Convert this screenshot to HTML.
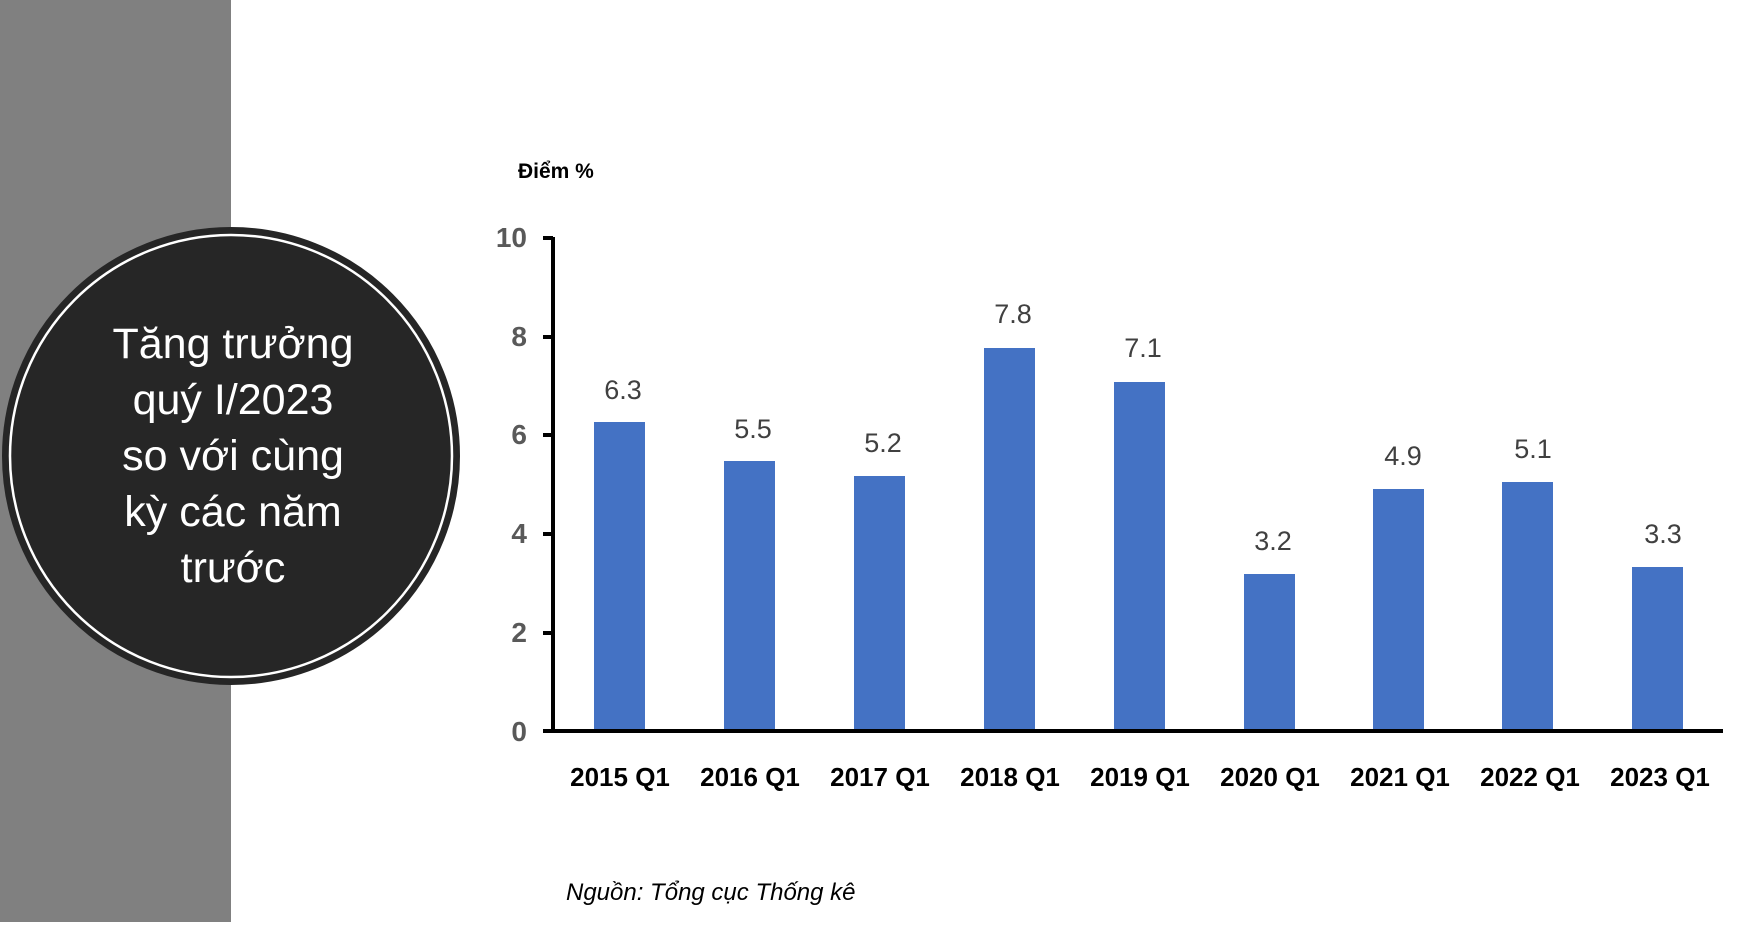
<!DOCTYPE html>
<html><head><meta charset="utf-8"><style>
html,body{margin:0;padding:0;background:#fff;}
</style></head><body>
<svg width="1745" height="922" viewBox="0 0 1745 922" xmlns="http://www.w3.org/2000/svg" font-family="'Liberation Sans', sans-serif">
<rect x="0" y="0" width="231" height="922" fill="#808080"/>
<circle cx="231" cy="456" r="227" fill="#262626" stroke="#262626" stroke-width="4"/>
<circle cx="231" cy="456" r="221" fill="none" stroke="#ffffff" stroke-width="2.5"/>
<g fill="#fff" font-size="43" text-anchor="middle">
<text x="233" y="358">Tăng trưởng</text>
<text x="233" y="414">quý I/2023</text>
<text x="233" y="470">so với cùng</text>
<text x="233" y="526">kỳ các năm</text>
<text x="233" y="582">trước</text>
</g>
<text x="518" y="178" font-size="21" font-weight="bold" fill="#000">Điểm %</text>
<g fill="#595959" font-size="28" font-weight="bold" text-anchor="end">
<text x="527" y="247">10</text>
<text x="527" y="346">8</text>
<text x="527" y="444">6</text>
<text x="527" y="543">4</text>
<text x="527" y="642">2</text>
<text x="527" y="741">0</text>
</g>
<g stroke="#000" stroke-width="4">
<line x1="553" y1="237" x2="553" y2="733"/>
<line x1="543" y1="238" x2="553" y2="238"/>
<line x1="543" y1="337" x2="553" y2="337"/>
<line x1="543" y1="435" x2="553" y2="435"/>
<line x1="543" y1="534" x2="553" y2="534"/>
<line x1="543" y1="633" x2="553" y2="633"/>
<line x1="543" y1="731" x2="1723" y2="731"/>
</g>
<g fill="#4472C4">
<rect x="594" y="422" width="51" height="307"/>
<rect x="724" y="461" width="51" height="268"/>
<rect x="854" y="476" width="51" height="253"/>
<rect x="984" y="348" width="51" height="381"/>
<rect x="1114" y="382" width="51" height="347"/>
<rect x="1244" y="574" width="51" height="155"/>
<rect x="1373" y="489" width="51" height="240"/>
<rect x="1502" y="482" width="51" height="247"/>
<rect x="1632" y="567" width="51" height="162"/>
</g>
<g fill="#404040" font-size="27" text-anchor="middle">
<text x="623" y="399">6.3</text>
<text x="753" y="438">5.5</text>
<text x="883" y="452">5.2</text>
<text x="1013" y="323">7.8</text>
<text x="1143" y="357">7.1</text>
<text x="1273" y="550">3.2</text>
<text x="1403" y="465">4.9</text>
<text x="1533" y="458">5.1</text>
<text x="1663" y="543">3.3</text>
</g>
<g fill="#000" font-size="26" font-weight="bold" text-anchor="middle">
<text x="620" y="786">2015 Q1</text>
<text x="750" y="786">2016 Q1</text>
<text x="880" y="786">2017 Q1</text>
<text x="1010" y="786">2018 Q1</text>
<text x="1140" y="786">2019 Q1</text>
<text x="1270" y="786">2020 Q1</text>
<text x="1400" y="786">2021 Q1</text>
<text x="1530" y="786">2022 Q1</text>
<text x="1660" y="786">2023 Q1</text>
</g>
<text x="566" y="900" font-size="24" font-style="italic" fill="#000">Nguồn: Tổng cục Thống kê</text>
</svg>
</body></html>
